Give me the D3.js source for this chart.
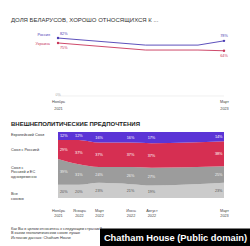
<!DOCTYPE html>
<html><head><meta charset="utf-8">
<script src="https://cdn.jsdelivr.net/npm/d3@7"></script>
<style>
html,body{margin:0;padding:0;background:#fff;}
svg{display:block;font-family:"Liberation Sans",Arial,sans-serif;}
</style></head>
<body>
<script>
// ---- data ----
const lineDates = ["2021-11-01","2022-07-15","2022-12-15","2023-03-01"];
const russiaAttitude = [82, 72, 72, 78];
const ukraineAttitude = [75, 65, 65, 64];
const lineNames = ["Россия", "Украина"];

const stackDates = ["2021-11-01","2022-01-01","2022-03-01","2022-06-01","2022-08-01","2023-03-01"];
const stackTickLabels = [["Ноябрь","2021"],["Январь","2022"],["Март","2022"],["Июнь","2022"],["Август","2022"],["Март","2023"]];
const euUnion = [12, 12, 16, 16, 17, 14];
const russiaUnion = [29, 37, 37, 37, 37, 38];
const bothUnion = [39, 31, 24, 26, 27, 25];
const noUnion = [20, 20, 23, 21, 19, 23];
const categoryLabels = [["Европейский Союз"],["Союз с Россией"],["Союз с","Россией и ЕС","одновременно"],["Вне","союзов"]];

const title1 = "ДОЛЯ БЕЛАРУСОВ, ХОРОШО ОТНОСЯЩИХСЯ К ...";
const title2 = "ВНЕШНЕПОЛИТИЧЕСКИЕ ПРЕДПОЧТЕНИЯ";
const footer = ["Как Вы в целом относитесь к следующим странам?",
  "В каком геополитическом союзе лучше участвовать Беларуси?",
  "Источник данных: Chatham House"];
const credit = "Chatham House (Public domain)";

// ---- setup ----
const W = 250, H = 246;
const svg = d3.select("body").append("svg").attr("width", W).attr("height", H);
const parse = d3.timeParse("%Y-%m-%d");
const x = d3.scaleTime().domain([parse("2021-11-01"), parse("2023-03-01")]).range([58, 224]);

const cRus = "#4b3db4", cUkr = "#c8365a";

// ---- top chart ----
svg.append("text").attr("x", 11).attr("y", 22).attr("font-size", 6).attr("fill", "#333").text(title1);
const yL = d3.scaleLinear().domain([0, 100]).range([96, 25.3]);

svg.append("line").attr("x1", x.range()[0]).attr("x2", x.range()[1]).attr("y1", yL(0)).attr("y2", yL(0))
  .attr("stroke", "#e6e6e6").attr("stroke-width", 0.6);
svg.append("text").attr("x", 58).attr("y", yL(0) - 0.5).attr("text-anchor", "middle").attr("font-size", 3.6).attr("fill", "#aaa").text("0%");

const lineSeries = [
  {name: lineNames[0], vals: russiaAttitude, color: cRus},
  {name: lineNames[1], vals: ukraineAttitude, color: cUkr}
];
const lineGen = d3.line().x((d, i) => x(parse(lineDates[i]))).y(d => yL(d));
lineSeries.forEach((s, k) => {
  svg.append("path").attr("d", lineGen(s.vals)).attr("fill", "none").attr("stroke", s.color).attr("stroke-width", 0.9);
  const ends = [0, s.vals.length - 1];
  ends.forEach(i => {
    svg.append("circle").attr("cx", x(parse(lineDates[i]))).attr("cy", yL(s.vals[i])).attr("r", 1.2).attr("fill", s.color);
  });
  svg.append("text").attr("x", 50).attr("y", yL(s.vals[0]) + (k === 0 ? -2.5 : 2))
    .attr("text-anchor", "end").attr("font-size", 3.8).attr("fill", s.color).text(s.name);
  svg.append("text").attr("x", 60).attr("y", yL(s.vals[0]) + (k === 0 ? -3.5 : 6.5))
    .attr("font-size", 3.8).attr("fill", s.color).text(s.vals[0] + "%");
  const li = s.vals.length - 1;
  svg.append("text").attr("x", x(parse(lineDates[li]))).attr("y", yL(s.vals[li]) + (k === 0 ? -4 : 6.5))
    .attr("text-anchor", "middle").attr("font-size", 3.8).attr("fill", s.color).text(s.vals[li] + "%");
});

// top x axis (two end ticks)
const topTicks = [0, 5];
const axTop = svg.append("g").attr("transform", `translate(0,${yL(0) + 4})`)
  .call(d3.axisBottom(x).tickValues(topTicks.map(i => parse(stackDates[i]))).tickSize(0).tickFormat(""));
axTop.select(".domain").remove();
axTop.selectAll(".tick").each(function(d, j) {
  const lab = stackTickLabels[topTicks[j]];
  const t = d3.select(this).append("text").attr("fill", "#444").attr("font-size", 3.8).attr("text-anchor", "middle");
  t.append("tspan").attr("x", 0).attr("y", 3).text(lab[0]);
  t.append("tspan").attr("x", 0).attr("y", 10).text(lab[1]);
});

// ---- bottom stacked area ----
svg.append("text").attr("x", 11).attr("y", 125.5).attr("font-size", 6).attr("font-weight", "bold").attr("fill", "#222").text(title2);

const rows = stackDates.map((d, i) => ({date: parse(d), eu: euUnion[i], rus: russiaUnion[i], both: bothUnion[i], none: noUnion[i]}));
const keys = ["none", "both", "rus", "eu"];
const colors = {eu: "#5b34d6", rus: "#d62f52", both: "#9c9c9c", none: "#cbcbcb"};
const labelColors = {eu: "#fff", rus: "#fff", both: "#f2f2f2", none: "#555"};
const stack = d3.stack().keys(keys)(rows);
const yA = d3.scaleLinear().domain([0, 100]).range([198, 132]);
const area = d3.area().x(d => x(d.data.date)).y0(d => yA(d[0])).y1(d => yA(d[1])).curve(d3.curveMonotoneX);

svg.append("g").selectAll("path").data(stack).join("path")
  .attr("d", area).attr("fill", d => colors[d.key]);

stack.forEach(layer => {
  layer.forEach((d, i) => {
    let cx = x(d.data.date), anchor = "middle";
    if (i === 0) { cx = cx + 2; anchor = "start"; }
    if (i === layer.length - 1) { cx = cx - 1.5; anchor = "end"; }
    svg.append("text").attr("x", cx).attr("y", yA((d[0] + d[1]) / 2) + 1.4)
      .attr("text-anchor", anchor).attr("font-size", 3.8).attr("fill", labelColors[layer.key])
      .text((d[1] - d[0]) + "%");
  });
});

// category labels on left
const catKeys = ["eu", "rus", "both", "none"];
const catY = [135.8, 150.5, 168.5, 195];
catKeys.forEach((k, j) => {
  const t = svg.append("text").attr("font-size", 3.8).attr("fill", "#333");
  categoryLabels[j].forEach((ln, m) => {
    t.append("tspan").attr("x", 11).attr("y", catY[j] + m * 4.6).text(ln);
  });
});

// bottom axis
const axB = svg.append("g").attr("transform", "translate(0,205)")
  .call(d3.axisBottom(x).tickValues(rows.map(r => r.date)).tickSize(0).tickFormat(""));
axB.select(".domain").remove();
axB.selectAll(".tick").each(function(d, j) {
  const lab = stackTickLabels[j];
  const t = d3.select(this).append("text").attr("fill", "#444").attr("font-size", 3.8).attr("text-anchor", "middle");
  t.append("tspan").attr("x", 0).attr("y", 6.5).text(lab[0]);
  t.append("tspan").attr("x", 0).attr("y", 11.5).text(lab[1]);
});

// credit banner geometry
const bannerX = 100, bannerY = 228.5;

// footer (lines that would run under the banner are shortened word by word)
footer.forEach((ln, i) => {
  const y = 229.5 + i * 4.7;
  const t = svg.append("text").attr("x", 11).attr("y", y).attr("font-size", 3.8).attr("fill", "#333").text(ln);
  if (y > bannerY + 3) {
    let words = ln.split(" ");
    while (words.length > 1 && 11 + t.node().getComputedTextLength() > bannerX - 1) {
      words.pop();
      t.text(words.join(" "));
    }
  }
});

svg.append("rect").attr("x", bannerX).attr("y", bannerY).attr("width", 150).attr("height", 17.5).attr("fill", "#000");
svg.append("text").attr("x", 247).attr("y", 240.8).attr("text-anchor", "end").attr("font-size", 9.3)
  .attr("font-weight", "bold").attr("fill", "#fff").text(credit);
</script>
</body></html>
